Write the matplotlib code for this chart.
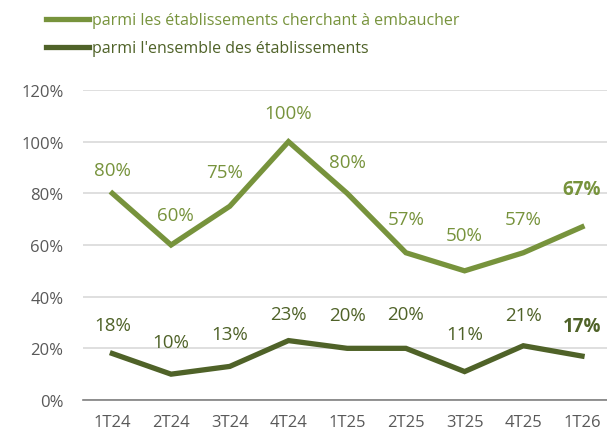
import matplotlib.pyplot as plt

categories = ['1T24', '2T24', '3T24', '4T24', '1T25', '2T25', '3T25', '4T25', '1T26']
recruiting = [80, 60, 75, 100, 80, 57, 50, 57, 67]
all_estab = [18, 10, 13, 23, 20, 20, 11, 21, 17]
label_recruiting = 'parmi les établissements cherchant à embaucher'
label_all = "parmi l'ensemble des établissements"

light = '#77933C'
dark = '#4F6228'
plt.rcParams['font.family'] = ['Open Sans', 'DejaVu Sans']

# label offsets above each point (pixels), as placed in the original
dy_light = [23, 30, 34, 29, 31, 34, 36, 34, 38]
dy_dark = [28, 32, 32, 27, 33, 34, 38, 31, 30]
dx_light = [0, 4, -5, 0, 0, 0, 0, 0, 0]
px = 0.72  # pixels -> points at dpi 100

fig = plt.figure(figsize=(6.07, 4.39), dpi=100)
ax = fig.add_axes([83 / 607, 1 - 401 / 439, 1 - 83 / 607, (401 - 91) / 439])

x = list(range(len(categories)))
l1, = ax.plot(x, recruiting, color=light, lw=3.8, solid_joinstyle='miter', label=label_recruiting)
l2, = ax.plot(x, all_estab, color=dark, lw=3.8, solid_joinstyle='miter', label=label_all)

last = len(categories) - 1
for i, v in enumerate(recruiting):
    ax.annotate(f'{v}%', (i, v), xytext=(dx_light[i] * px, dy_light[i] * px),
                textcoords='offset points', ha='center', va='center', color=light,
                fontsize=13.5, fontweight='bold' if i == last else 'normal')
for i, v in enumerate(all_estab):
    ax.annotate(f'{v}%', (i, v), xytext=(0, dy_dark[i] * px),
                textcoords='offset points', ha='center', va='center', color=dark,
                fontsize=13.5, fontweight='bold' if i == last else 'normal')

ax.set_ylim(0, 120)
ax.set_xlim(-0.5, (607 - 112) / 58.75)
ax.set_yticks(range(0, 121, 20))
ax.set_yticklabels([f'{t}%' for t in range(0, 121, 20)])
ax.set_xticks(x)
ax.set_xticklabels(categories)
ax.tick_params(length=0, colors='#595959', labelsize=12)
ax.tick_params(axis='x', pad=10)
ax.tick_params(axis='y', pad=14)
ax.grid(axis='y', color='#D9D9D9', lw=1.2)
ax.set_axisbelow(True)
for s in ['top', 'right', 'left']:
    ax.spines[s].set_visible(False)
ax.spines['bottom'].set_color('#808080')
ax.spines['bottom'].set_linewidth(1.2)

fig.legend(handles=[l1, l2], loc='upper left', bbox_to_anchor=(38 / 607, 0.988),
           frameon=False, fontsize=11.5, handlelength=2.7, handletextpad=0.2,
           labelspacing=0.75, labelcolor='linecolor', borderaxespad=0.1)

fig.savefig('out.png', dpi=100)
